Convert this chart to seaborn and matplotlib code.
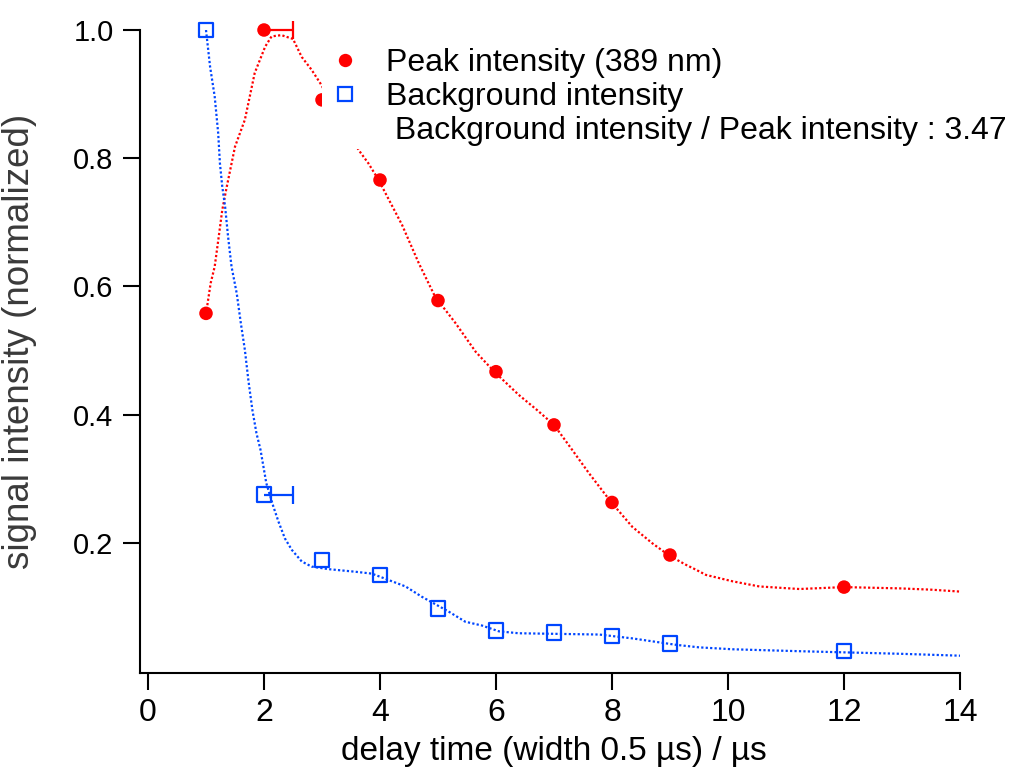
import matplotlib
matplotlib.use("Agg")
import matplotlib.pyplot as plt
from matplotlib.lines import Line2D
import seaborn as sns
import numpy as np

# ---- data ----
delay = [1, 2, 3, 4, 5, 6, 7, 8, 9, 12]
peak = [0.558, 1.0, 0.891, 0.766, 0.578, 0.467, 0.384, 0.263, 0.181, 0.131]
background = [1.0, 0.275, 0.173, 0.150, 0.098, 0.063, 0.060, 0.055, 0.043, 0.031]

err_x = [2]
err_peak = [1.0]
err_bg = [0.275]
err_width = [0.5]

peak_fit_x = [1.0, 1.08, 1.15, 1.22, 1.28, 1.35, 1.5, 1.67, 1.84, 2.02, 2.13, 2.3, 2.5,
              2.65, 2.82, 2.97, 3.63, 3.80, 3.97, 4.38, 4.67, 4.95, 5.30, 5.65, 5.97,
              6.39, 6.71, 7.0, 7.29, 7.60, 7.99, 8.35, 8.70, 8.99, 9.27, 9.45, 9.62,
              10.08, 10.54, 11.23, 12.0, 12.96, 13.5, 14.0]
peak_fit_y = [0.557, 0.605, 0.631, 0.678, 0.719, 0.752, 0.818, 0.86, 0.933, 0.974, 0.99,
              0.992, 0.986, 0.958, 0.938, 0.917, 0.813, 0.792, 0.767, 0.696, 0.636, 0.584,
              0.543, 0.498, 0.467, 0.431, 0.407, 0.384, 0.348, 0.309, 0.263, 0.225, 0.199,
              0.180, 0.166, 0.158, 0.150, 0.140, 0.132, 0.128, 0.131, 0.129, 0.127, 0.124]

bg_fit_x = [1.0, 1.07, 1.15, 1.21, 1.24, 1.28, 1.33, 1.38, 1.44, 1.53, 1.60, 1.67, 1.73,
            1.80, 1.87, 1.94, 1.99, 2.04, 2.16, 2.25, 2.36, 2.48, 2.65, 2.82, 3.11, 3.57,
            3.86, 4.15, 4.44, 4.72, 5.18, 5.47, 5.76, 6.05, 6.39, 7.78, 8.35, 9.1, 9.5,
            10.08, 11.23, 12.96, 14.0]
bg_fit_y = [1.0, 0.943, 0.896, 0.839, 0.792, 0.756, 0.724, 0.678, 0.631, 0.589, 0.543,
            0.501, 0.454, 0.407, 0.371, 0.345, 0.319, 0.293, 0.257, 0.233, 0.207, 0.189,
            0.171, 0.163, 0.159, 0.155, 0.152, 0.142, 0.132, 0.116, 0.093, 0.077, 0.071,
            0.062, 0.059, 0.057, 0.051, 0.041, 0.037, 0.034, 0.031, 0.027, 0.024]

x_ticks = [0, 2, 4, 6, 8, 10, 12, 14]
y_ticks = [0.2, 0.4, 0.6, 0.8, 1.0]
y_tick_labels = ["0.2", "0.4", "0.6", "0.8", "1.0"]

labels = ["Peak intensity (389 nm)", "Background intensity",
          " Background intensity / Peak intensity : 3.47"]
xlabel = "delay time (width 0.5 \u00b5s) / \u00b5s"
ylabel = "signal intensity (normalized)"

RED = "#ff0000"
BLUE = "#0046ff"

sns.set_style("ticks")
plt.rcParams["font.family"] = ["Liberation Sans", "DejaVu Sans"]
plt.rcParams["text.color"] = "black"
plt.rcParams["axes.labelcolor"] = "black"
plt.rcParams["xtick.color"] = "black"
plt.rcParams["ytick.color"] = "black"

fig = plt.figure(figsize=(10.3, 7.74), dpi=100)
ax = fig.add_axes([140 / 1030, 1 - 673 / 774, 820 / 1030, 643 / 774])

dotted = (0, (1, 1))
sns.lineplot(x=peak_fit_x, y=peak_fit_y, ax=ax, color=RED, lw=1.6,
             linestyle=dotted, sort=False, estimator=None)
sns.lineplot(x=bg_fit_x, y=bg_fit_y, ax=ax, color=BLUE, lw=1.6,
             linestyle=dotted, sort=False, estimator=None)

# one-sided horizontal error bars (x to x + width) with a cap at the right end
err_x_arr = np.array(err_x)
err_w_arr = np.array(err_width)
for yv, col in ((err_peak, RED), (err_bg, BLUE)):
    ax.errorbar(err_x_arr, yv, xerr=[np.zeros_like(err_w_arr), err_w_arr],
                fmt="none", ecolor=col, elinewidth=1.6, capsize=0, clip_on=False, zorder=3)
    ax.plot(err_x_arr + err_w_arr, yv, linestyle="none", marker="|", color=col,
            markersize=13, markeredgewidth=1.6, clip_on=False, zorder=3)

sns.scatterplot(x=delay, y=peak, ax=ax, marker="o", s=95, color=RED,
                edgecolor="none", zorder=4, clip_on=False)
sns.scatterplot(x=delay, y=background, ax=ax, marker="s", s=110, facecolors="none",
                edgecolor=BLUE, linewidth=1.6, zorder=4, clip_on=False)

ax.set_xlim(-0.138, 14)
ax.set_ylim(-0.003, 1.0)
ax.set_xticks(x_ticks)
ax.set_xticklabels([str(t) for t in x_ticks])
ax.set_yticks(y_ticks)
ax.set_yticklabels(y_tick_labels)
sns.despine(ax=ax)
for sp in ("left", "bottom"):
    ax.spines[sp].set_linewidth(1.5)
    ax.spines[sp].set_color("black")
ax.tick_params(axis="both", direction="out", length=12, width=1.5, color="black")
ax.tick_params(axis="x", labelsize=23, pad=6)
ax.tick_params(axis="y", labelsize=21, pad=7)

ax.set_xlabel(xlabel, fontsize=24)
ax.set_ylabel(ylabel, fontsize=26.5, color="#3a3a3a")
ax.xaxis.set_label_coords(0.505, -0.098)
ax.yaxis.set_label_coords(-0.126, 0.515)

handles = [
    Line2D([], [], linestyle="none", marker="o", color=RED, markersize=9.6,
           markeredgewidth=0),
    Line2D([], [], linestyle="none", marker="s", markerfacecolor="none",
           markeredgecolor=BLUE, markersize=10.4, markeredgewidth=1.6),
    Line2D([], [], linestyle="none", marker=None),
]
leg = ax.legend(handles, labels, loc="upper left",
                bbox_to_anchor=(322 / 1030, 1 - 45 / 774),
                bbox_transform=fig.transFigure, fontsize=23, frameon=True,
                borderpad=0.1, handlelength=1.25, handletextpad=0.66,
                labelspacing=0.12, borderaxespad=0)
leg.get_frame().set_facecolor("white")
leg.get_frame().set_edgecolor("none")
leg.get_frame().set_alpha(1.0)
leg.get_frame().set_boxstyle("square", pad=0)

fig.savefig("out.png", dpi=100)
